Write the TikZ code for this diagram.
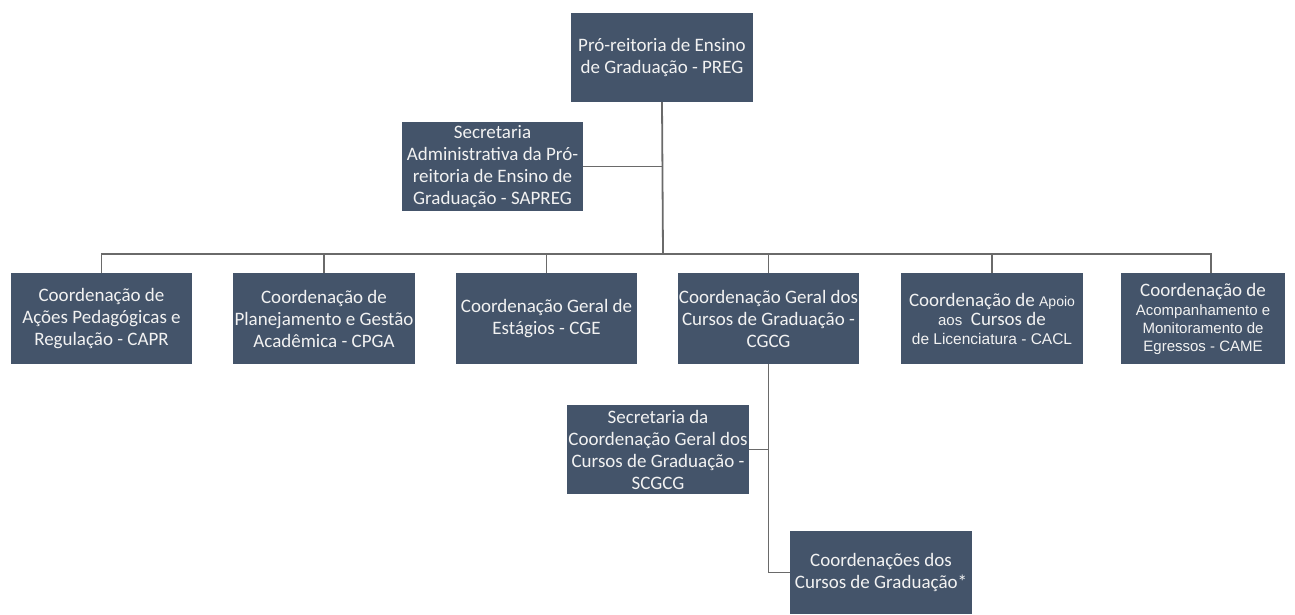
\documentclass[tikz,border=0pt]{standalone}
\usepackage{fontspec}
\setmainfont{Carlito}
\newfontfamily\arialf{Liberation Sans}
\definecolor{boxblue}{HTML}{44546A}
\definecolor{linegray}{HTML}{6A6A6A}
\definecolor{txtc}{HTML}{F2F2F2}
\newcommand{\arsm}{\arialf\fontsize{15}{17.5}\selectfont}
\begin{document}
\begin{tikzpicture}[x=1pt,y=-1pt,
  org/.style={fill=boxblue, text=txtc, align=center, inner sep=0pt,
    font=\fontsize{19}{22}\selectfont},
  conn/.style={draw=linegray, line width=1.8pt}]
\fill[white] (0,0) rectangle (1295,614);
\useasboundingbox (0,0) rectangle (1295,614);
\clip (0,0) rectangle (1295,614);

\node[org, minimum width=182pt, minimum height=89pt] (preg) at (662,57.5)
  {Pró-reitoria de Ensino\\de Graduação - PREG};
\node[org, minimum width=181pt, minimum height=89pt] (sapreg) at (492.5,166.5)
  {Secretaria\\Administrativa da Pró-\\reitoria de Ensino de\\Graduação - SAPREG};

\node[org, minimum width=181pt, minimum height=91pt] (capr) at (101.5,318.5)
  {Coordenação de\\Ações Pedagógicas e\\Regulação - CAPR};
\node[org, minimum width=182pt, minimum height=91pt] (cpga) at (324,318.5)
  {Coordenação de\\Planejamento e Gestão\\Acadêmica - CPGA};
\node[org, minimum width=181pt, minimum height=91pt] (cge) at (546.5,318.5)
  {Coordenação Geral de\\Estágios - CGE};
\node[org, minimum width=181pt, minimum height=91pt] (cgcg) at (768.5,318.5)
  {Coordenação Geral dos\\Cursos de Graduação -\\CGCG};
\node[org, minimum width=182pt, minimum height=91pt] (cacl) at (992,318.5)
  {Coordenação de {\arialf\fontsize{14}{18}\selectfont Apoio}\\[-3pt]
   {\arialf\fontsize{15}{18}\selectfont aos} \ Cursos de\\[-3pt]
   {\arialf\fontsize{15.5}{18}\selectfont de Licenciatura - CACL}};
\node[org, minimum width=164pt, minimum height=91pt] (came) at (1203,318.5)
  {Coordenação de\\[-3pt]
   {\arsm Acompanhamento e}\\[-4pt]
   {\arsm Monitoramento de}\\[-4pt]
   {\arsm Egressos - CAME}};

\node[org, minimum width=182pt, minimum height=89pt] (scgcg) at (658,449.5)
  {Secretaria da\\Coordenação Geral dos\\Cursos de Graduação -\\SCGCG};
\node[org, minimum width=182pt, minimum height=83pt] (cc) at (881,572.5)
  {Coordenações dos\\Cursos de Graduação*};

\coordinate (bus) at (663,254);
\draw[conn] (preg.south) -- (bus);
\draw[conn] (sapreg.east) -- (sapreg.east -| preg.south);
\draw[conn] (capr.north) |- (bus);
\draw[conn] (cpga.north) |- (bus);
\draw[conn] (cge.north) |- (bus);
\draw[conn] (cgcg.north) |- (bus);
\draw[conn] (cacl.north) |- (bus);
\draw[conn] ([xshift=8pt]came.north) |- (bus);
\draw[conn] (cgcg.south) |- (cc.west);
\draw[conn] (scgcg.east) -- (scgcg.east -| cgcg.south);
\end{tikzpicture}
\end{document}
